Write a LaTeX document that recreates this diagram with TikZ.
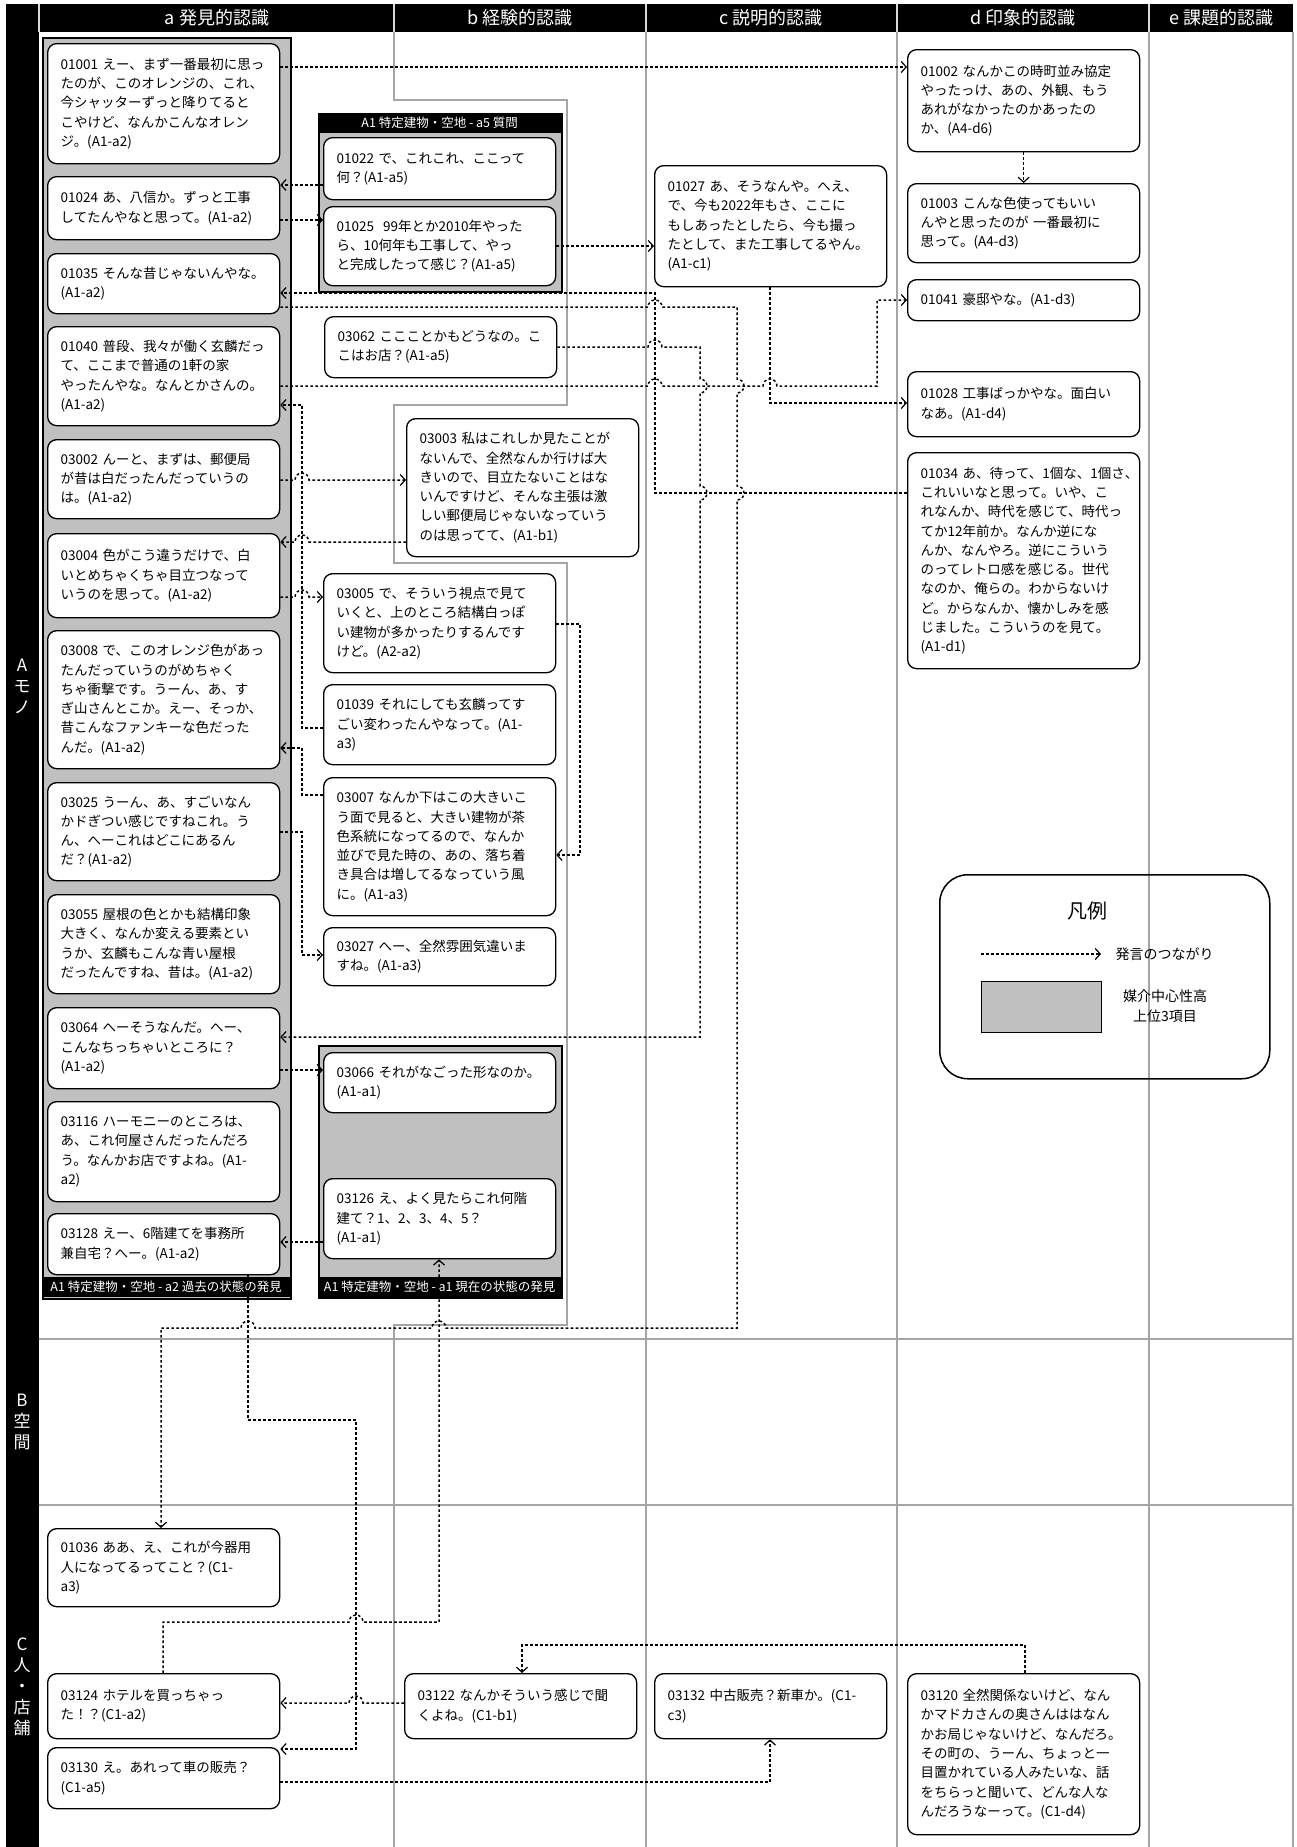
\documentclass[tikz,border=0pt]{standalone}
\usepackage{fontspec}
\setmainfont{Noto Sans CJK JP}
\usetikzlibrary{arrows.meta}
\exhyphenpenalty=10000 \hyphenpenalty=10000
\definecolor{grp}{RGB}{192,192,192}
\definecolor{lane}{RGB}{165,165,165}
\begin{document}
\begin{tikzpicture}[x=1pt,y=-1pt,
 ub/.style={draw, fill=white, rounded corners=9pt, line width=1.3pt, minimum width=232, text width=206, inner xsep=13pt, inner ysep=3pt, align=left, anchor=north west, font=\fontsize{13.5}{19.3}\selectfont},
 grpbox/.style={draw, fill=grp, line width=1.5pt, anchor=north west, inner sep=0pt},
 bar/.style={fill=black, text=white, anchor=north west, inner sep=0pt, minimum height=20, font=\fontsize{12.5}{14}\selectfont},
 hdr/.style={text=white, font=\fontsize{18}{20}\selectfont},
 rowlab/.style={text=white, align=center, font=\fontsize{17}{21}\selectfont},
 lanel/.style={draw=lane, line width=2.4pt},
 con/.style={line width=1.5pt, dash pattern=on 2.6pt off 2.4pt, -{Straight Barb[length=5pt,width=11pt,line width=1.2pt]}},
 hopR/.style 2 args={insert path={-- ({#1-7},#2) arc[start angle=180,end angle=0,radius=7pt]}},
 hopL/.style 2 args={insert path={-- ({#1+7},#2) arc[start angle=0,end angle=180,radius=7pt]}},
 hopD/.style 2 args={insert path={-- (#1,{#2-7}) arc[start angle=90,end angle=-90,radius=7pt]}},
]
\useasboundingbox (0,0) rectangle (1296,1847);
\fill[white] (0,0) rectangle (1296,1847);
% header and row label column
\fill[black] (6,4) rectangle (1293,32);
\fill[black] (6,32) rectangle (39,1847);
\foreach \xx in {39,394,646,897,1149}{\draw[white!85!black, line width=1.5pt] (\xx,4) -- (\xx,32);}
\node[hdr] (ha) at (217,18) {a 発見的認識};
\node[hdr] (hb) at (520,18) {b 経験的認識};
\node[hdr] (hc) at (771,18) {c 説明的認識};
\node[hdr] (hd) at (1023,18) {d 印象的認識};
\node[hdr] (he) at (1221,18) {e 課題的認識};
\node[rowlab] (ra) at (22,686) {A\\モ\\ノ};
\node[rowlab] (rb) at (22,1422) {B\\空\\間};
\node[rowlab] (rc) at (22,1687) {C\\人\\・\\店\\舗};
% lanes
\draw[lanel] (394,32) -- (394,100) -- (567,100) -- (567,405) -- (394,405) -- (394,563) -- (567,563) -- (567,1325) -- (394,1325) -- (394,1847);
\draw[lanel] (646,32) -- (646,1847);
\draw[lanel] (897,32) -- (897,1847);
\draw[lanel] (1149,32) -- (1149,1847);
\draw[lanel] (1293,32) -- (1293,1847);
\draw[lanel] (39,1339) -- (1293,1339);
\draw[lanel] (39,1505) -- (1293,1505);
% groups
\node[grpbox, minimum width=248, minimum height=1261] (ga2) at (42,37) {};
\node[bar, minimum width=248] (la2) at (42,1277) {A1 特定建物・空地 - a2 過去の状態の発見};
\node[grpbox, minimum width=243, minimum height=178] (ga5) at (318,113) {};
\node[bar, minimum width=243] (la5) at (318,113) {A1 特定建物・空地 - a5 質問};
\node[grpbox, minimum width=243, minimum height=252] (ga1) at (318,1045) {};
\node[bar, minimum width=243] (la1) at (318,1277) {A1 特定建物・空地 - a1 現在の状態の発見};
% column a
\node[ub, minimum height=120] (n01001) at (47,43) {01001~えー、まず一番最初に思っ\\たのが、このオレンジの、これ、\\今シャッターずっと降りてると\\こやけど、なんかこんなオレン\\ジ。(A1-a2)};
\node[ub, minimum height=63] (n01024) at (47,176) {01024~あ、八信か。ずっと工事\\してたんやなと思って。(A1-a2)};
\node[ub, minimum height=60] (n01035) at (47,253) {01035~そんな昔じゃないんやな。\\(A1-a2)};
\node[ub, minimum height=99] (n01040) at (47,326) {01040~普段、我々が働く玄麟だっ\\て、ここまで普通の1軒の家\\やったんやな。なんとかさんの。\\(A1-a2)};
\node[ub, minimum height=79] (n03002) at (47,439) {03002~んーと、まずは、郵便局\\が昔は白だったんだっていうの\\は。(A1-a2)};
\node[ub, minimum height=84] (n03004) at (47,533) {03004~色がこう違うだけで、白\\いとめちゃくちゃ目立つなって\\いうのを思って。(A1-a2)};
\node[ub, minimum height=138] (n03008) at (47,630) {03008~で、このオレンジ色があっ\\たんだっていうのがめちゃく\\ちゃ衝撃です。うーん、あ、す\\ぎ山さんとこか。えー、そっか、\\昔こんなファンキーな色だった\\んだ。(A1-a2)};
\node[ub, minimum height=98] (n03025) at (47,782) {03025~うーん、あ、すごいなん\\かドぎつい感じですねこれ。う\\ん、へーこれはどこにあるん\\だ？(A1-a2)};
\node[ub, minimum height=99] (n03055) at (47,894) {03055~屋根の色とかも結構印象\\大きく、なんか変える要素とい\\うか、玄麟もこんな青い屋根\\だったんですね、昔は。(A1-a2)};
\node[ub, minimum height=81] (n03064) at (47,1007) {03064~へーそうなんだ。へー、\\こんなちっちゃいところに？\\(A1-a2)};
\node[ub, minimum height=100] (n03116) at (47,1101) {03116~ハーモニーのところは、\\あ、これ何屋さんだったんだろ\\う。なんかお店ですよね。(A1-\\a2)};
\node[ub, minimum height=61] (n03128) at (47,1213) {03128~えー、6階建てを事務所\\兼自宅？へー。(A1-a2)};
% column b area
\node[ub, minimum height=62] (n01022) at (323,137) {01022~で、これこれ、ここって\\何？(A1-a5)};
\node[ub, minimum height=79] (n01025) at (323,206) {01025~~99年とか2010年やった\\ら、10何年も工事して、やっ\\と完成したって感じ？(A1-a5)};
\node[ub, minimum height=61] (n03062) at (324,316) {03062~ここことかもどうなの。こ\\こはお店？(A1-a5)};
\node[ub, minimum height=138] (n03003) at (406,418) {03003~私はこれしか見たことが\\ないんで、全然なんか行けば大\\きいので、目立たないことはな\\いんですけど、そんな主張は激\\しい郵便局じゃないなっていう\\のは思ってて、(A1-b1)};
\node[ub, minimum height=99] (n03005) at (323,573) {03005~で、そういう視点で見て\\いくと、上のところ結構白っぽ\\い建物が多かったりするんです\\けど。(A2-a2)};
\node[ub, minimum height=80] (n01039) at (323,684) {01039~それにしても玄麟ってす\\ごい変わったんやなって。(A1-\\a3)};
\node[ub, minimum height=138] (n03007) at (323,777) {03007~なんか下はこの大きいこ\\う面で見ると、大きい建物が茶\\色系統になってるので、なんか\\並びで見た時の、あの、落ち着\\き具合は増してるなっていう風\\に。(A1-a3)};
\node[ub, minimum height=58] (n03027) at (323,927) {03027~へー、全然雰囲気違いま\\すね。(A1-a3)};
\node[ub, minimum height=60] (n03066) at (323,1052) {03066~それがなごった形なのか。\\(A1-a1)};
\node[ub, minimum height=80] (n03126) at (323,1178) {03126~え、よく見たらこれ何階\\建て？1、2、3、4、5？\\(A1-a1)};
% column c
\node[ub, minimum height=121] (n01027) at (654,165) {01027~あ、そうなんや。へえ、\\で、今も2022年もさ、ここに\\もしあったとしたら、今も撮っ\\たとして、また工事してるやん。\\(A1-c1)};
% column d
\node[ub, minimum height=102] (n01002) at (907,49) {01002~なんかこの時町並み協定\\やったっけ、あの、外観、もう\\あれがなかったのかあったの\\か、(A4-d6)};
\node[ub, minimum height=79] (n01003) at (907,183) {01003~こんな色使ってもいい\\んやと思ったのが~一番最初に\\思って。(A4-d3)};
\node[ub, minimum height=41] (n01041) at (907,279) {01041~豪邸やな。(A1-d3)};
\node[ub, minimum height=65] (n01028) at (907,371) {01028~工事ばっかやな。面白い\\なあ。(A1-d4)};
\node[ub, minimum height=216] (n01034) at (907,452) {01034~あ、待って、1個な、1個さ、\\これいいなと思って。いや、こ\\れなんか、時代を感じて、時代っ\\てか12年前か。なんか逆にな\\んか、なんやろ。逆にこういう\\のってレトロ感を感じる。世代\\なのか、俺らの。わからないけ\\ど。からなんか、懐かしみを感\\じました。こういうのを見て。\\(A1-d1)};
% row C
\node[ub, minimum height=78] (n01036) at (47,1528) {01036~ああ、え、これが今器用\\人になってるってこと？(C1-\\a3)};
\node[ub, minimum height=65] (n03124) at (47,1673) {03124~ホテルを買っちゃっ\\た！？(C1-a2)};
\node[ub, minimum height=61] (n03130) at (47,1747) {03130~え。あれって車の販売？\\(C1-a5)};
\node[ub, minimum height=65] (n03122) at (404,1673) {03122~なんかそういう感じで聞\\くよね。(C1-b1)};
\node[ub, minimum height=65] (n03132) at (654,1673) {03132~中古販売？新車か。(C1-\\c3)};
\node[ub, minimum height=161] (n03120) at (907,1673) {03120~全然関係ないけど、なん\\かマドカさんの奥さんははなん\\かお局じゃないけど、なんだろ。\\その町の、うーん、ちょっと一\\目置かれている人みたいな、話\\をちらっと聞いて、どんな人な\\んだろうなーって。(C1-d4)};
% legend
\node[draw, rounded corners=28pt, line width=1.5pt, minimum width=330, minimum height=204, anchor=north west] (leg) at (939,874) {};
\node[font=\fontsize{20}{24}\selectfont] (legt) at (1087,911) {凡例};
\coordinate (lga) at (981,954);
\coordinate (lgb) at (1101,954);
\draw[con] (lga) -- (lgb);
\node[anchor=west, font=\fontsize{14}{17}\selectfont] (legc) at (1112,954) {発言のつながり};
\node[draw, fill=grp, line width=1.3pt, minimum width=120, minimum height=51, anchor=north west, inner sep=0pt] (legg) at (981,981) {};
\node[align=center, font=\fontsize{14}{20}\selectfont] (legm) at (1165,1006) {媒介中心性高\\上位3項目};
% connectors
\draw[con] (n01001.east |- 0,67) -- (n01002.west |- 0,67);
\draw[con] (n01002.south) -- (n01003.north);
\draw[con] (n01022.west |- 0,185) -- (n01024.east |- 0,185);
\draw[con] (n01024.east |- 0,220) -- (n01025.west |- 0,220);
\draw[con] (n01025.east |- 0,246) -- (n01027.west |- 0,246);
\draw[con] (n01034.west |- 0,493) -- (655,493) -- (655,293) -- (n01035.east |- 0,293);
\draw[con] (n01035.east |- 0,307) [hopR={655}{307}] -- (737,307) [hopD={737}{386}] [hopD={737}{493}] -- (737,1328) [hopL={439}{1328}] [hopL={248}{1328}] -- (161,1328) -- (n01036.north -| 161,0);
\draw[con] (n01040.east |- 0,386) [hopR={655}{386}] [hopR={770}{386}] -- (877,386) -- (877,300) -- (n01041.west |- 0,300);
\draw[con] (n03062.east |- 0,347) [hopR={655}{347}] -- (700,347) [hopD={700}{386}] [hopD={700}{493}] -- (700,1037) -- (n03064.east |- 0,1037);
\draw[con] (n01027.south -| 770,0) |- (n01028.west |- 0,403);
\draw[con] (n03002.east |- 0,480) [hopR={302}{480}] -- (n03003.west |- 0,480);
\draw[con] (n03003.west |- 0,542) [hopL={302}{542}] -- (n03004.east |- 0,542);
\draw[con] (n03004.east |- 0,597) [hopR={302}{597}] -- (n03005.west |- 0,597);
\draw[con] (n01039.west |- 0,728) -- (302,728) -- (302,405) -- (n01040.east |- 0,405);
\draw[con] (n03007.west |- 0,795) -- (302,795) -- (302,748) -- (n03008.east |- 0,748);
\draw[con] (n03025.east |- 0,832) -- (302,832) -- (302,955) -- (n03027.west |- 0,955);
\draw[con] (n03005.east |- 0,624) -- (580,624) -- (580,855) -- (n03007.east |- 0,855);
\draw[con] (n03064.east |- 0,1070) -- (n03066.west |- 0,1070);
\draw[con] (n03126.west |- 0,1242) -- (n03128.east |- 0,1242);
\draw[con] (n03128.south -| 248,0) -- (248,1420) -- (356,1420) -- (356,1749) -- (n03130.east |- 0,1749);
\draw[con] (n03124.north -| 163,0) -- (163,1622) [hopR={356}{1622}] -- (439,1622) -- (n03126.south -| 439,0);
\draw[con] (n03122.west |- 0,1703) [hopL={356}{1703}] -- (n03124.east |- 0,1703);
\draw[con] (n03120.north -| 1025,0) -- (1025,1645) -| (n03122.north -| 522,0);
\draw[con] (n03130.east |- 0,1782) -| (n03132.south -| 770,0);
\end{tikzpicture}
\end{document}
